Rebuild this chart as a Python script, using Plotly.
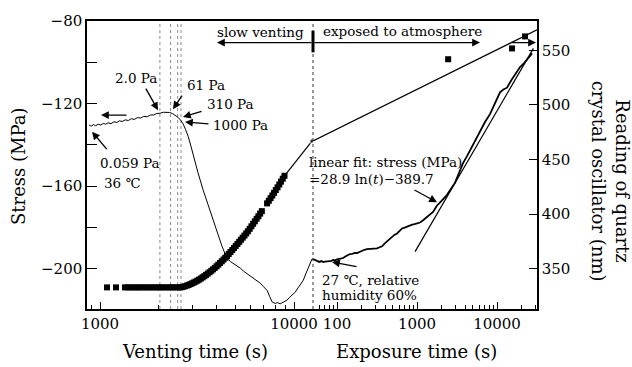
import math
import plotly.graph_objects as go

# ------------------------------------------------------------------ data
# Stress (MPa) during venting (venting time, s)
vent_stress_t = [880, 900, 925, 950, 980, 1010, 1040, 1070, 1100, 1140, 1180, 1220,
                 1260, 1300, 1350, 1400, 1450, 1500, 1560, 1620, 1680, 1750, 1820,
                 1890, 1960, 2040, 2120, 2200, 2280, 2360, 2440, 2520, 2600, 2680,
                 2760, 2850, 2940, 3030, 3200, 3394, 3600, 3823, 4030, 4250, 4400,
                 4510, 4700, 4900, 5077, 5300, 5500, 5723, 5900, 6100, 6300, 6450,
                 6700, 6950, 7270, 7500, 7715, 8000, 8250, 8486, 8700, 8950, 9210,
                 9500, 9800, 10140, 10500, 10800, 11150, 11500, 11830, 12100, 12375, 12525]
vent_stress = [-130.5, -130.9, -130.2, -130.7, -130.0, -130.4, -129.6, -130.0, -129.3,
               -129.7, -128.8, -129.2, -128.3, -128.7, -127.9, -128.2, -127.3, -127.7,
               -126.8, -127.0, -126.2, -126.4, -125.5, -125.5, -124.8, -124.7, -124.2,
               -124.1, -124.3, -124.8, -125.6, -126.6, -128.0, -129.8, -132.5, -136.0,
               -140.5, -145.5, -153.5, -161.6, -169.0, -175.8, -182.5, -189.0, -192.5,
               -194.5, -196.5, -197.6, -198.6, -199.8, -201.2, -202.4, -203.0, -204.4,
               -205.3, -205.7, -207.0, -208.6, -210.5, -213.5, -216.1, -216.8, -216.4,
               -217.0, -216.4, -215.8, -215.2, -213.8, -212.6, -211.4, -209.2, -207.3,
               -205.7, -202.5, -199.5, -196.8, -195.3, -195.3]

# Stress (MPa) during exposure (exposure time, s)
exp_stress_t = [50, 53, 56, 60, 64, 67, 71, 75, 80, 85, 89, 95, 100, 107, 113, 119, 127,
                135, 145, 155, 166, 178, 190, 205, 220, 237, 255, 275, 295, 316, 340, 365,
                392, 421, 450, 485, 520, 562, 605, 650, 700, 750, 810, 870, 930, 1000,
                1090, 1180, 1260, 1334, 1450, 1585, 1760, 1940, 2150, 2371, 2650, 2985,
                3350, 3758, 4200, 4623, 5300, 6128, 7100, 8166, 9400, 10890, 12000,
                13340, 15000, 16790, 19400, 21800, 24470, 27450]
exp_stress = [-195.3, -195.8, -196.4, -196.7, -196.3, -196.8, -196.5, -196.4, -196.0,
              -196.2, -195.7, -195.9, -195.4, -195.3, -194.9, -194.8, -194.1, -193.6,
              -192.9, -192.8, -192.3, -192.4, -191.8, -191.3, -190.8, -190.5, -190.4,
              -190.2, -190.1, -190.1, -189.6, -189.1, -187.8, -186.7, -185.6, -184.5,
              -183.6, -182.9, -181.4, -180.5, -180.1, -179.6, -179.0, -178.6, -178.4,
              -178.2, -177.6, -176.6, -175.6, -174.9, -173.8, -172.5, -169.6, -167.6,
              -166.0, -164.2, -161.4, -158.3, -153.6, -148.8, -145.6, -142.6, -137.9,
              -133.1, -128.8, -125.1, -119.6, -114.6, -113.2, -112.3, -108.8, -106.1,
              -102.3, -100.4, -98.0, -95.7]

# Quartz crystal oscillator reading (nm) during venting
vent_quartz_t = [1087, 1209, 1345, 1390, 1440, 1490, 1540, 1590, 1650, 1710, 1770, 1830,
                 1900, 1970, 2040, 2110, 2190, 2270, 2350, 2430, 2510,
                 2584, 2638, 2693, 2749, 2807, 2865, 2925, 2986, 3049, 3112, 3177, 3244,
                 3311, 3381, 3451, 3523, 3597, 3672, 3749, 3827, 3907, 3989, 4072, 4157,
                 4244, 4333, 4423, 4516, 4610, 4706, 4805, 4905, 5008, 5112, 5219, 5328,
                 5439, 5553, 5669, 5787, 5908, 6032, 6158, 6286, 6418, 6552, 6689, 6828,
                 7265, 7417, 7572, 7730, 7892, 8057, 8225, 8397, 8572, 8751, 8934]
vent_quartz = [333.0, 333.0, 333.0, 333.0, 333.0, 333.0, 333.0, 333.0, 333.0, 333.0,
               333.0, 333.0, 333.0, 333.0, 333.0, 333.0, 333.0, 333.0, 333.0, 333.0,
               333.0,
               333.0, 333.2, 333.6, 334.1, 334.7, 335.3, 336.0, 336.7, 337.5, 338.3,
               339.2, 340.1, 341.1, 342.2, 343.3, 344.5, 345.7, 346.9, 348.2, 349.5,
               350.9, 352.3, 353.8, 355.3, 356.9, 358.5, 360.1, 361.8, 363.6, 365.4,
               367.2, 369.0, 370.9, 372.8, 374.7, 376.6, 378.5, 380.4, 382.4, 384.4,
               386.6, 388.9, 391.2, 393.5, 395.8, 398.1, 400.5, 402.8,
               409.9, 412.3, 414.7, 417.1, 419.6, 422.1, 424.6, 427.2, 429.8, 432.5, 435.2]
vent_quartz_tail_t = [8934, 12375]
vent_quartz_tail = [435.2, 467.0]

# Quartz reading during exposure
exp_quartz_line_t = [50, 31600]
exp_quartz_line = [467.0, 568.8]
exp_quartz_t = [2448, 15400, 22390]
exp_quartz = [541.9, 551.8, 562.8]

# Linear fit of stress in exposure: stress = a ln(t) + b
fit_a, fit_b = 28.9, -389.7
fit_t = [944, 28500]

# Pressures marked during venting
pressure_t = [2036, 2311, 2515, 2615]
pressure_labels = ["2.0 Pa", "61 Pa", "310 Pa", "1000 Pa"]

# Axis limits / ticks
vent_range = [857, 12530]
exp_range = [50, 31600]
stress_range = [-219.5, -80]
quartz_range = [313.2, 576.9]

# ------------------------------------------------------------------ figure
W, H = 632, 367
L, R, T, B = 87, 95, 15, 58
PW, PH = W - L - R, H - T - B
SPLIT = (313 - L) / PW

FONT = "DejaVu Serif"


def px(x):
    return (x - L) / PW


def py(y):
    return (H - B - y) / PH


fig = go.Figure()

# pressure dotted lines
for t in pressure_t:
    fig.add_trace(go.Scatter(x=[t, t], y=stress_range, xaxis="x", yaxis="y", mode="lines",
                             line=dict(color="#8a8a8a", width=1, dash="dot"),
                             hoverinfo="skip"))

# stress
fig.add_trace(go.Scatter(x=vent_stress_t, y=vent_stress, xaxis="x", yaxis="y",
                         mode="lines", line=dict(color="black", width=1)))
fig.add_trace(go.Scatter(x=exp_stress_t, y=exp_stress, xaxis="x2", yaxis="y",
                         mode="lines", line=dict(color="black", width=1.8)))
fig.add_trace(go.Scatter(x=fit_t, y=[fit_a * math.log(t) + fit_b for t in fit_t],
                         xaxis="x2", yaxis="y", mode="lines",
                         line=dict(color="black", width=1.2)))

# quartz reading
fig.add_trace(go.Scatter(x=vent_quartz_t, y=vent_quartz, xaxis="x", yaxis="y2",
                         mode="markers",
                         marker=dict(symbol="square", size=6, color="black",
                                     line=dict(width=0))))
fig.add_trace(go.Scatter(x=vent_quartz_tail_t, y=vent_quartz_tail, xaxis="x", yaxis="y2",
                         mode="lines+markers", line=dict(color="black", width=1.2),
                         marker=dict(symbol="square", size=[0, 4], color="black")))
fig.add_trace(go.Scatter(x=exp_quartz_line_t, y=exp_quartz_line, xaxis="x2", yaxis="y2",
                         mode="lines", line=dict(color="black", width=1.2)))
fig.add_trace(go.Scatter(x=exp_quartz_t, y=exp_quartz, xaxis="x2", yaxis="y2",
                         mode="markers",
                         marker=dict(symbol="square", size=6, color="black",
                                     line=dict(width=0))))

tickfont = dict(family=FONT, size=15, color="black")
vent_minor = [m * 10 ** k for k in (2, 3) for m in range(2, 10)]
vent_minor = [v for v in vent_minor if vent_range[0] <= v <= vent_range[1]]
exp_minor = [m * 10 ** k for k in (1, 2, 3, 4) for m in range(2, 10)]
exp_minor = [v for v in exp_minor if exp_range[0] < v <= exp_range[1]]

common_x = dict(type="log", showline=True, linecolor="black", linewidth=1.5,
                mirror=True, ticks="inside", ticklen=7, tickwidth=1, tickcolor="black",
                showgrid=False, zeroline=False, tickfont=tickfont, anchor="y",
                tickmode="array")

fig.update_layout(
    width=W, height=H,
    margin=dict(l=L, r=R, t=T, b=B, pad=0),
    paper_bgcolor="white", plot_bgcolor="white",
    showlegend=False,
    font=dict(family=FONT, color="black"),
    xaxis=dict(common_x, domain=[0, SPLIT],
               range=[math.log10(vent_range[0]), math.log10(vent_range[1])],
               tickvals=[1000, 10000], ticktext=["1000", "10000"],
               minor=dict(ticks="inside", ticklen=4, tickcolor="black",
                          tickmode="array", tickvals=vent_minor, showgrid=False)),
    xaxis2=dict(common_x, domain=[SPLIT, 1],
                range=[math.log10(exp_range[0]), math.log10(exp_range[1])],
                tickvals=[100, 1000, 10000], ticktext=["100", "1000", "10000"],
                minor=dict(ticks="inside", ticklen=4, tickcolor="black",
                           tickmode="array", tickvals=exp_minor, showgrid=False)),
    yaxis=dict(range=stress_range, domain=[0, 1], anchor="x", showline=True,
               linecolor="black", linewidth=1.5, ticks="inside", ticklen=10,
               tickcolor="black", tickmode="array",
               tickvals=[-200, -180, -160, -140, -120, -100, -80],
               ticktext=["−200", "", "−160", "", "−120", "", "−80"],
               showgrid=False, zeroline=False, tickfont=tickfont),
    yaxis2=dict(range=quartz_range, overlaying="y", side="right", anchor="x2",
                showline=True, linecolor="black", linewidth=1.5, ticks="inside",
                ticklen=8, tickcolor="black", tickmode="array",
                tickvals=[350, 400, 450, 500, 550],
                showgrid=False, zeroline=False, tickfont=tickfont),
)

# frame pieces: boundary dotted line and separator bar
fig.add_shape(type="line", xref="paper", yref="paper", x0=SPLIT, x1=SPLIT, y0=0, y1=1,
              line=dict(color="#333333", width=1, dash="dot"))
fig.add_shape(type="line", xref="paper", yref="paper", x0=SPLIT, x1=SPLIT,
              y0=py(47), y1=py(25), line=dict(color="black", width=3))

anns = []


def text(x, y, s, size=13.5, anchor="left", angle=0):
    anns.append(dict(x=px(x), y=py(y), xref="paper", yref="paper", text=s,
                     showarrow=False, xanchor=anchor, yanchor="middle",
                     textangle=angle, font=dict(family=FONT, size=size, color="black")))


def arrow(tx, ty, hx, hy):
    anns.append(dict(x=px(hx), y=py(hy), xref="paper", yref="paper", text="",
                     showarrow=True, ax=tx - hx, ay=ty - hy, axref="pixel", ayref="pixel",
                     arrowhead=2, arrowsize=1.2, arrowwidth=1.3, arrowcolor="black",
                     standoff=0, startstandoff=0))


# top arrows
text(215, 26, "slow venting")
text(321, 25, "exposed to atmosphere")
arrow(313, 37, 217, 37)
arrow(313, 37, 480, 37)
arrow(510, 37, 536, 37)
arrow(128, 111, 101, 111)

# pressure labels
label_pos = [(113, 73), (185, 80), (205, 100), (211, 121)]
arrow_pos = [((145, 83), (158, 106)), ((183, 90), (173, 105)),
             ((203, 107), (183, 113)), ((210, 120), (185, 118))]
for lab, (lx, ly), (tl, hd) in zip(pressure_labels, label_pos, arrow_pos):
    text(lx, ly, lab)
    arrow(tl[0], tl[1], hd[0], hd[1])

text(98, 160, "0.059 Pa")
text(102, 180, "36 ℃")
arrow(108, 147, 92, 128)

text(307, 159, "linear fit: stress (MPa)")
text(307, 176, "=28.9 ln(<i>t</i>)−389.7")
arrow(413, 187, 437, 200)

text(320, 279, "27 ℃, relative")
text(320, 295, "humidity 60%")
arrow(358, 266, 332, 261)

# axis titles
text(195, 352, "Venting time (s)", size=18, anchor="center")
text(416, 352, "Exposure time (s)", size=18, anchor="center")
text(19, 163, "Stress (MPa)", size=18, anchor="center", angle=-90)
text(611, 178, "Reading of quartz<br>crystal oscillator (nm)", size=18, anchor="center",
     angle=90)

fig.update_layout(annotations=anns)

fig.write_html("out.html")
